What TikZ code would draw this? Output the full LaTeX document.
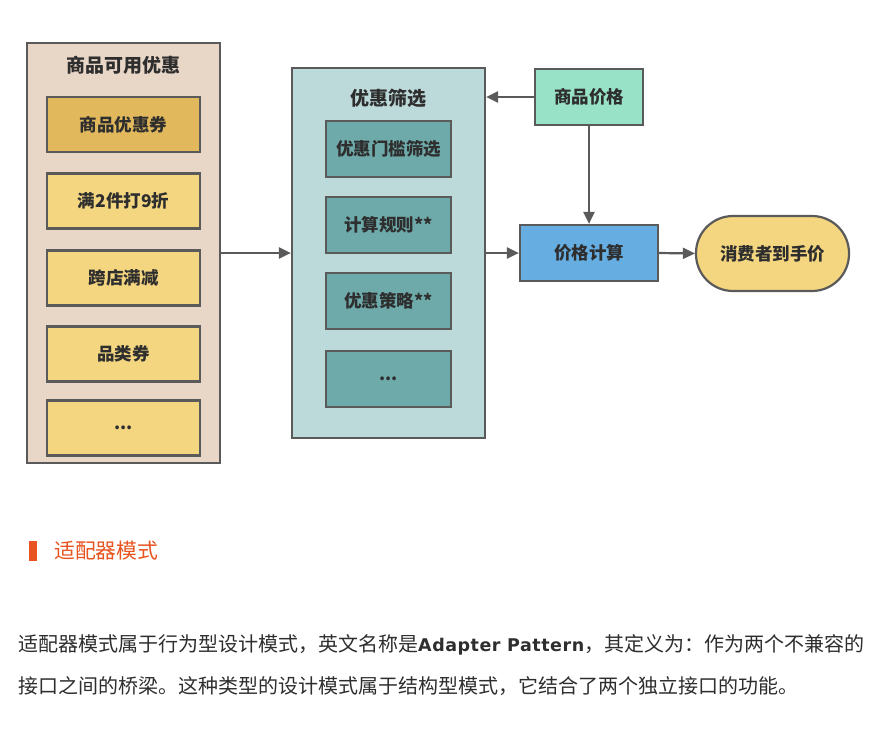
\documentclass[tikz,border=0pt]{standalone}
\usepackage{fontspec}
\setmainfont{Noto Sans CJK SC}
\newfontfamily\latinpart[LetterSpace=3]{DejaVu Sans}
\usetikzlibrary{arrows.meta}
\definecolor{edge}{HTML}{5A5A5A}
\definecolor{txt}{HTML}{2E2E2E}
\definecolor{beige}{HTML}{E8D6C6}
\definecolor{gold}{HTML}{E1B95C}
\definecolor{yel}{HTML}{F4D680}
\definecolor{lteal}{HTML}{BDDADB}
\definecolor{teal}{HTML}{6EAAAA}
\definecolor{mint}{HTML}{98E3C8}
\definecolor{blu}{HTML}{66AEE2}
\definecolor{orng}{HTML}{E8531F}
\tikzset{
  box/.style={draw=edge, line width=2.2pt, text=txt, font=\fontsize{17.5}{20}\selectfont\bfseries, inner sep=0pt},
  cont/.style={draw=edge, line width=2.2pt, inner sep=0pt},
  ttl/.style={text=txt, font=\fontsize{19}{22}\selectfont\bfseries, inner sep=0pt},
  arr/.style={draw=edge, line width=2.2pt, -{Triangle[length=12pt,width=11pt]}},
  para/.style={text=txt, font=\fontsize{20}{24}\selectfont, anchor=west, inner sep=0pt}
}
\begin{document}
\begin{tikzpicture}[x=1pt,y=-1pt]
\useasboundingbox[fill=white] (0,0) rectangle (896,732);
% left container
\node[cont, fill=beige, minimum width=193pt, minimum height=420pt] (left) at (123.5,253) {};
\node[ttl] (t1) at (123.5,65) {商品可用优惠};
\node[box, fill=gold, minimum width=153pt, minimum height=55pt] (l1) at (123.5,124.5) {商品优惠券};
\node[box, fill=yel, minimum width=153pt, minimum height=55pt] (l2) at (123.5,201) {满2件打9折};
\node[box, fill=yel, minimum width=153pt, minimum height=55pt] (l3) at (123.5,278) {跨店满减};
\node[box, fill=yel, minimum width=153pt, minimum height=55pt] (l4) at (123.5,354) {品类券};
\node[box, fill=yel, minimum width=153pt, minimum height=55pt] (l5) at (123.5,428) {...};
% middle container
\node[cont, fill=lteal, minimum width=193pt, minimum height=370pt] (mid) at (388.5,253) {};
\node[ttl] (t2) at (388.5,98) {优惠筛选};
\node[box, fill=teal, minimum width=125pt, minimum height=56pt] (m1) at (388.5,149) {优惠门槛筛选};
\node[box, fill=teal, minimum width=125pt, minimum height=56pt] (m2) at (388.5,225) {计算规则**};
\node[box, fill=teal, minimum width=125pt, minimum height=56pt] (m3) at (388.5,301) {优惠策略**};
\node[box, fill=teal, minimum width=125pt, minimum height=56pt] (m4) at (388.5,379) {...};
% right side
\node[box, fill=mint, minimum width=108pt, minimum height=56pt] (price) at (589,97) {商品价格};
\node[box, fill=blu, minimum width=138pt, minimum height=56pt] (calc) at (589,253) {价格计算};
\node[box, fill=yel, minimum width=153pt, minimum height=75pt, rounded corners=37pt] (cons) at (772.5,253.5) {消费者到手价};
% arrows
\draw[arr] (left.east) -- (mid.west);
\draw[arr] (price.west) -- (price.west -| mid.east);
\draw[arr] (price.south) -- (calc.north);
\draw[arr] (mid.east) -- (calc.west);
\draw[arr] (calc.east) -- (cons.west);
% heading
\node[fill=orng, minimum width=8pt, minimum height=20pt, inner sep=0pt] (bar) at (33,550.5) {};
\node[anchor=west, inner sep=0pt, text=orng, font=\fontsize{20.8}{24}\selectfont] (head) at (54,550.5) {适配器模式};
% paragraph
\node[para] (p1) at (18,645) {适配器模式属于行为型设计模式，英文名称是{\latinpart\bfseries\fontsize{17.5}{24}\selectfont Adapter Pattern}，其定义为：作为两个不兼容的};
\node[para] (p2) at (18,686) {接口之间的桥梁。这种类型的设计模式属于结构型模式，它结合了两个独立接口的功能。};
\end{tikzpicture}
\end{document}
